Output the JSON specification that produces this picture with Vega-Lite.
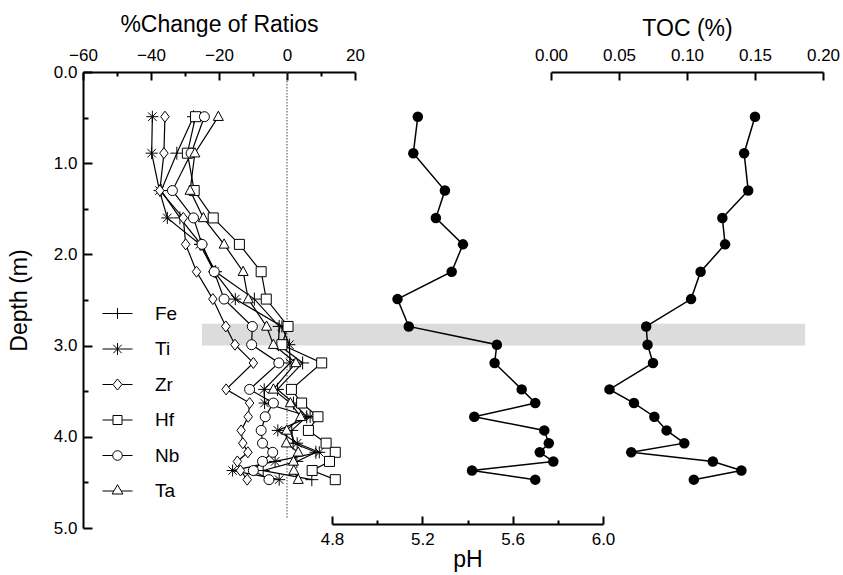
{
  "$schema": "https://vega.github.io/schema/vega-lite/v6.json",
  "width": 740,
  "height": 456,
  "autosize": {"type": "none"},
  "padding": {"left": 83, "top": 72, "right": 20, "bottom": 47},
  "config": {
    "view": {"stroke": null},
    "font": "Liberation Sans",
    "axis": {
      "domainColor": "black", "domainWidth": 2, "tickColor": "black", "tickWidth": 2,
      "labelColor": "black", "titleColor": "black", "labelFontSize": 17, "titleFontSize": 23,
      "titleFontWeight": "normal", "grid": false, "labelFlush": false, "labelOverlap": false,
      "labelFont": "Liberation Sans", "titleFont": "Liberation Sans"
    },
    "legend": {"labelFont": "Liberation Sans", "labelColor": "black"}
  },
  "datasets": {
    "elements": [
      {"element": "Fe", "depth": 0.49, "change": -27.5}, {"element": "Fe", "depth": 0.89, "change": -32.4}, {"element": "Fe", "depth": 1.30, "change": -37.0}, {"element": "Fe", "depth": 1.60, "change": -31.5}, {"element": "Fe", "depth": 1.89, "change": -25.3}, {"element": "Fe", "depth": 2.19, "change": -21.0}, {"element": "Fe", "depth": 2.49, "change": -9.6}, {"element": "Fe", "depth": 2.79, "change": -2.3}, {"element": "Fe", "depth": 2.99, "change": -2.5}, {"element": "Fe", "depth": 3.19, "change": 4.6}, {"element": "Fe", "depth": 3.48, "change": -2.8}, {"element": "Fe", "depth": 3.63, "change": 1.9}, {"element": "Fe", "depth": 3.78, "change": 5.8}, {"element": "Fe", "depth": 3.93, "change": 1.4}, {"element": "Fe", "depth": 4.07, "change": 1.8}, {"element": "Fe", "depth": 4.17, "change": 8.5}, {"element": "Fe", "depth": 4.27, "change": 2.9}, {"element": "Fe", "depth": 4.37, "change": -7.0}, {"element": "Fe", "depth": 4.47, "change": 7.3},
      {"element": "Ti", "depth": 0.49, "change": -39.6}, {"element": "Ti", "depth": 0.89, "change": -39.8}, {"element": "Ti", "depth": 1.30, "change": -37.5}, {"element": "Ti", "depth": 1.60, "change": -35.2}, {"element": "Ti", "depth": 1.89, "change": -25.6}, {"element": "Ti", "depth": 2.19, "change": -21.4}, {"element": "Ti", "depth": 2.49, "change": -15.2}, {"element": "Ti", "depth": 2.79, "change": -1.5}, {"element": "Ti", "depth": 2.99, "change": 0.7}, {"element": "Ti", "depth": 3.19, "change": 0.9}, {"element": "Ti", "depth": 3.48, "change": -6.7}, {"element": "Ti", "depth": 3.63, "change": -6.6}, {"element": "Ti", "depth": 3.78, "change": 6.8}, {"element": "Ti", "depth": 3.93, "change": -2.7}, {"element": "Ti", "depth": 4.07, "change": 3.0}, {"element": "Ti", "depth": 4.17, "change": 9.5}, {"element": "Ti", "depth": 4.27, "change": -3.5}, {"element": "Ti", "depth": 4.37, "change": -16.0}, {"element": "Ti", "depth": 4.47, "change": -2.3},
      {"element": "Zr", "depth": 0.49, "change": -35.9}, {"element": "Zr", "depth": 0.89, "change": -36.2}, {"element": "Zr", "depth": 1.30, "change": -37.4}, {"element": "Zr", "depth": 1.60, "change": -30.5}, {"element": "Zr", "depth": 1.89, "change": -29.8}, {"element": "Zr", "depth": 2.19, "change": -26.6}, {"element": "Zr", "depth": 2.49, "change": -21.8}, {"element": "Zr", "depth": 2.79, "change": -18.0}, {"element": "Zr", "depth": 2.99, "change": -15.3}, {"element": "Zr", "depth": 3.19, "change": -9.9}, {"element": "Zr", "depth": 3.48, "change": -17.9}, {"element": "Zr", "depth": 3.63, "change": -11.0}, {"element": "Zr", "depth": 3.78, "change": -11.4}, {"element": "Zr", "depth": 3.93, "change": -13.5}, {"element": "Zr", "depth": 4.07, "change": -13.0}, {"element": "Zr", "depth": 4.17, "change": -11.5}, {"element": "Zr", "depth": 4.27, "change": -14.6}, {"element": "Zr", "depth": 4.37, "change": -13.7}, {"element": "Zr", "depth": 4.47, "change": -11.7},
      {"element": "Hf", "depth": 0.49, "change": -26.9}, {"element": "Hf", "depth": 0.89, "change": -29.3}, {"element": "Hf", "depth": 1.30, "change": -27.3}, {"element": "Hf", "depth": 1.60, "change": -21.7}, {"element": "Hf", "depth": 1.89, "change": -14.0}, {"element": "Hf", "depth": 2.19, "change": -7.6}, {"element": "Hf", "depth": 2.49, "change": -6.1}, {"element": "Hf", "depth": 2.79, "change": 0.3}, {"element": "Hf", "depth": 2.99, "change": -1.5}, {"element": "Hf", "depth": 3.19, "change": 10.2}, {"element": "Hf", "depth": 3.48, "change": 1.3}, {"element": "Hf", "depth": 3.63, "change": 4.3}, {"element": "Hf", "depth": 3.78, "change": 9.1}, {"element": "Hf", "depth": 3.93, "change": 6.3}, {"element": "Hf", "depth": 4.07, "change": 11.5}, {"element": "Hf", "depth": 4.17, "change": 14.2}, {"element": "Hf", "depth": 4.27, "change": 12.5}, {"element": "Hf", "depth": 4.37, "change": 7.4}, {"element": "Hf", "depth": 4.47, "change": 14.2},
      {"element": "Nb", "depth": 0.49, "change": -24.3}, {"element": "Nb", "depth": 0.89, "change": -28.2}, {"element": "Nb", "depth": 1.30, "change": -33.7}, {"element": "Nb", "depth": 1.60, "change": -27.5}, {"element": "Nb", "depth": 1.89, "change": -25.0}, {"element": "Nb", "depth": 2.19, "change": -21.4}, {"element": "Nb", "depth": 2.49, "change": -18.5}, {"element": "Nb", "depth": 2.79, "change": -10.2}, {"element": "Nb", "depth": 2.99, "change": -10.4}, {"element": "Nb", "depth": 3.19, "change": -2.4}, {"element": "Nb", "depth": 3.48, "change": -11.0}, {"element": "Nb", "depth": 3.63, "change": -4.0}, {"element": "Nb", "depth": 3.78, "change": -6.4}, {"element": "Nb", "depth": 3.93, "change": -7.6}, {"element": "Nb", "depth": 4.07, "change": -7.2}, {"element": "Nb", "depth": 4.17, "change": -4.2}, {"element": "Nb", "depth": 4.27, "change": -7.2}, {"element": "Nb", "depth": 4.37, "change": -9.9}, {"element": "Nb", "depth": 4.47, "change": -5.3},
      {"element": "Ta", "depth": 0.49, "change": -20.2}, {"element": "Ta", "depth": 0.89, "change": -27.1}, {"element": "Ta", "depth": 1.30, "change": -28.5}, {"element": "Ta", "depth": 1.60, "change": -24.6}, {"element": "Ta", "depth": 1.89, "change": -18.5}, {"element": "Ta", "depth": 2.19, "change": -12.9}, {"element": "Ta", "depth": 2.49, "change": -11.4}, {"element": "Ta", "depth": 2.79, "change": -6.0}, {"element": "Ta", "depth": 2.99, "change": -4.0}, {"element": "Ta", "depth": 3.19, "change": 2.6}, {"element": "Ta", "depth": 3.48, "change": -4.0}, {"element": "Ta", "depth": 3.63, "change": 1.0}, {"element": "Ta", "depth": 3.78, "change": 4.0}, {"element": "Ta", "depth": 3.93, "change": -0.1}, {"element": "Ta", "depth": 4.07, "change": -0.2}, {"element": "Ta", "depth": 4.17, "change": 3.3}, {"element": "Ta", "depth": 4.27, "change": 1.9}, {"element": "Ta", "depth": 4.37, "change": 2.0}, {"element": "Ta", "depth": 4.47, "change": 3.3}
    ],
    "ph": [
      {"depth": 0.49, "pH": 5.18}, {"depth": 0.89, "pH": 5.16}, {"depth": 1.30, "pH": 5.30}, {"depth": 1.60, "pH": 5.26}, {"depth": 1.89, "pH": 5.38}, {"depth": 2.19, "pH": 5.33}, {"depth": 2.49, "pH": 5.09}, {"depth": 2.79, "pH": 5.14}, {"depth": 2.99, "pH": 5.53}, {"depth": 3.19, "pH": 5.52}, {"depth": 3.48, "pH": 5.64}, {"depth": 3.63, "pH": 5.70}, {"depth": 3.78, "pH": 5.43}, {"depth": 3.93, "pH": 5.74}, {"depth": 4.07, "pH": 5.76}, {"depth": 4.17, "pH": 5.72}, {"depth": 4.27, "pH": 5.78}, {"depth": 4.37, "pH": 5.42}, {"depth": 4.47, "pH": 5.70}
    ],
    "toc": [
      {"depth": 0.49, "toc": 0.150}, {"depth": 0.89, "toc": 0.142}, {"depth": 1.30, "toc": 0.145}, {"depth": 1.60, "toc": 0.126}, {"depth": 1.89, "toc": 0.128}, {"depth": 2.19, "toc": 0.110}, {"depth": 2.49, "toc": 0.103}, {"depth": 2.79, "toc": 0.070}, {"depth": 2.99, "toc": 0.071}, {"depth": 3.19, "toc": 0.075}, {"depth": 3.48, "toc": 0.043}, {"depth": 3.63, "toc": 0.061}, {"depth": 3.78, "toc": 0.076}, {"depth": 3.93, "toc": 0.085}, {"depth": 4.07, "toc": 0.098}, {"depth": 4.17, "toc": 0.059}, {"depth": 4.27, "toc": 0.119}, {"depth": 4.37, "toc": 0.140}, {"depth": 4.47, "toc": 0.105}
    ],
    "band": [{"x1": -25, "x2": 152.4, "y1": 2.76, "y2": 3.0}]
  },
  "resolve": {"scale": {"x": "independent"}, "axis": {"x": "independent"}},
  "layer": [
    {
      "resolve": {"scale": {"shape": "independent"}, "legend": {"shape": "independent"}},
      "layer": [
        {
          "data": {"name": "band"},
          "mark": {"type": "rect", "color": "#dcdcdc"},
          "encoding": {
            "x": {"field": "x1", "type": "quantitative", "title": "%Change of Ratios", "scale": {"domain": [-60, 20], "range": [0, 272], "nice": false, "zero": false}},
            "x2": {"field": "x2"},
            "y": {"field": "y1", "type": "quantitative", "scale": {"domain": [0, 5], "reverse": true, "nice": false, "zero": false}},
            "y2": {"field": "y2"}
          }
        },
        {
          "data": {"values": [{}]},
          "mark": {"type": "rule", "color": "#444444", "strokeWidth": 1, "strokeDash": [1.5, 1.5]},
          "encoding": {
            "x": {"datum": 0, "type": "quantitative", "title": "%Change of Ratios"},
            "y": {"datum": 0, "type": "quantitative"},
            "y2": {"datum": 4.9}
          }
        },
        {
          "data": {"name": "elements"},
          "mark": {"type": "line", "color": "black", "strokeWidth": 1.2},
          "encoding": {
            "x": {"field": "change", "type": "quantitative", "title": "%Change of Ratios",
              "scale": {"domain": [-60, 20], "range": [0, 272], "nice": false, "zero": false},
              "axis": {"orient": "top", "title": "%Change of Ratios", "values": [-60, -50, -40, -30, -20, -10, 0, 10, 20],
                "labelExpr": "datum.value % 20 === 0 ? datum.label : ''",
                "tickSize": {"condition": {"test": "datum.value % 20 === 0", "value": -8}, "value": -4},
                "labelPadding": 16, "titlePadding": 6}},
            "y": {"field": "depth", "type": "quantitative",
              "scale": {"domain": [0, 5], "reverse": true, "nice": false, "zero": false},
              "axis": {"title": "Depth (m)", "values": [0, 0.5, 1, 1.5, 2, 2.5, 3, 3.5, 4, 4.5, 5],
                "labelExpr": "datum.value % 1 === 0 ? format(datum.value, '.1f') : ''",
                "tickSize": {"condition": {"test": "datum.value % 1 === 0", "value": -9}, "value": -5},
                "labelPadding": 15, "titlePadding": 22}},
            "detail": {"field": "element"},
            "order": {"field": "depth"}
          }
        },
        {
          "data": {"name": "elements"},
          "mark": {"type": "point", "filled": true, "fill": "white", "stroke": "black", "strokeWidth": 1, "opacity": 1, "size": 100},
          "encoding": {
            "x": {"field": "change", "type": "quantitative", "title": "%Change of Ratios"},
            "y": {"field": "depth", "type": "quantitative"},
            "shape": {"field": "element", "type": "nominal", "legend": null,
              "scale": {"domain": ["Fe", "Ti", "Zr", "Hf", "Nb", "Ta"],
                "range": ["M-1.3,0H1.3M0,-1.3V1.3", "M-1.2,0H1.2M0,-1.2V1.2M-0.85,-0.85L0.85,0.85M-0.85,0.85L0.85,-0.85", "M0,-1.1L0.85,0L0,1.1L-0.85,0Z", "square", "circle", "M0,-1.1L1,0.75H-1Z"]}
            }
          }
        },
        {
          "data": {"name": "elements"},
          "transform": [{"filter": "datum.depth > 100"}],
          "mark": {"type": "point", "filled": true, "fill": "white", "stroke": "black", "strokeWidth": 1, "opacity": 1, "size": 100},
          "encoding": {
            "x": {"field": "change", "type": "quantitative", "title": "%Change of Ratios"},
            "y": {"field": "depth", "type": "quantitative"},
            "shape": {"field": "element", "type": "nominal",
              "scale": {"domain": ["Fe", "Ti", "Zr", "Hf", "Nb", "Ta"],
                "range": [
                  "M-1,0H1M0,-0.36V0.36",
                  "M-1,0H1M0,-0.4V0.4M-0.28,-0.28L0.28,0.28M-0.28,0.28L0.28,-0.28",
                  "M-1,0H-0.3M0.3,0H1M0,-0.37L0.3,0L0,0.37L-0.3,0Z",
                  "M-1,0H-0.3M0.3,0H1M-0.3,-0.3H0.3V0.3H-0.3Z",
                  "M-1,0H-0.32M0.32,0H1M0.32,0A0.32,0.32,0,1,1,-0.32,0A0.32,0.32,0,1,1,0.32,0Z",
                  "M-1,0H-0.25M0.25,0H1M0,-0.42L0.36,0.2H-0.36Z"
                ]},
              "legend": {"orient": "none", "legendX": 19, "legendY": 226, "title": null, "symbolSize": 900, "rowPadding": 9.5,
                "labelFontSize": 19, "labelOffset": 22, "symbolStrokeWidth": 1}
            }
          }
        }
      ]
    },
    {
      "data": {"name": "ph"},
      "layer": [
        {
          "mark": {"type": "line", "color": "black", "strokeWidth": 1.5},
          "encoding": {
            "x": {"field": "pH", "type": "quantitative",
              "scale": {"domain": [4.8, 6.0], "range": [249, 520], "nice": false, "zero": false},
              "axis": {"orient": "bottom", "title": "pH", "offset": -4, "values": [4.8, 5.0, 5.2, 5.4, 5.6, 5.8, 6.0], "format": ".1f",
                "labelExpr": "round(datum.value * 10) % 4 === 0 ? datum.label : ''",
                "tickSize": {"condition": {"test": "round(datum.value * 10) % 4 === 0", "value": -8}, "value": -4},
                "labelPadding": 15, "titlePadding": -3}},
            "y": {"field": "depth", "type": "quantitative"},
            "order": {"field": "depth"}
          }
        },
        {
          "mark": {"type": "point", "filled": true, "color": "black", "opacity": 1, "size": 110},
          "encoding": {
            "x": {"field": "pH", "type": "quantitative"},
            "y": {"field": "depth", "type": "quantitative"}
          }
        }
      ]
    },
    {
      "data": {"name": "toc"},
      "layer": [
        {
          "mark": {"type": "line", "color": "black", "strokeWidth": 1.5},
          "encoding": {
            "x": {"field": "toc", "type": "quantitative",
              "scale": {"domain": [0, 0.2], "range": [468, 740], "nice": false, "zero": false},
              "axis": {"orient": "top", "title": "TOC (%)", "values": [0, 0.05, 0.1, 0.15, 0.2], "format": ".2f",
                "tickSize": -8, "labelPadding": 16, "titlePadding": 6}},
            "y": {"field": "depth", "type": "quantitative"},
            "order": {"field": "depth"}
          }
        },
        {
          "mark": {"type": "point", "filled": true, "color": "black", "opacity": 1, "size": 110},
          "encoding": {
            "x": {"field": "toc", "type": "quantitative"},
            "y": {"field": "depth", "type": "quantitative"}
          }
        }
      ]
    }
  ]
}
